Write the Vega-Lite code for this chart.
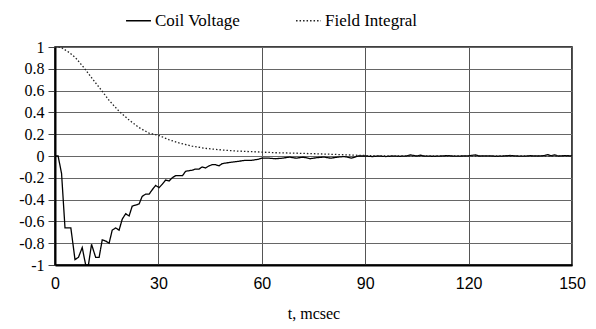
{
  "$schema": "https://vega.github.io/schema/vega-lite/v6.json",
  "width": 517,
  "height": 218,
  "autosize": {"type": "none"},
  "padding": {"left": 55, "top": 47, "right": 24, "bottom": 64},
  "background": "white",
  "config": {
    "view": {"stroke": "#000", "strokeWidth": 1.5},
    "font": "Liberation Serif"
  },
  "datasets": {
    "lines": [
      {"t": 0, "v": 0.0, "s": "Coil Voltage"},
      {"t": 0.9, "v": 0.0, "s": "Coil Voltage"},
      {"t": 1.9, "v": -0.16, "s": "Coil Voltage"},
      {"t": 2.9, "v": -0.66, "s": "Coil Voltage"},
      {"t": 4.6, "v": -0.66, "s": "Coil Voltage"},
      {"t": 5.8, "v": -0.95, "s": "Coil Voltage"},
      {"t": 6.8, "v": -0.93, "s": "Coil Voltage"},
      {"t": 7.9, "v": -0.84, "s": "Coil Voltage"},
      {"t": 8.9, "v": -1.0, "s": "Coil Voltage"},
      {"t": 9.7, "v": -1.0, "s": "Coil Voltage"},
      {"t": 10.6, "v": -0.81, "s": "Coil Voltage"},
      {"t": 11.8, "v": -0.93, "s": "Coil Voltage"},
      {"t": 12.8, "v": -0.93, "s": "Coil Voltage"},
      {"t": 13.7, "v": -0.77, "s": "Coil Voltage"},
      {"t": 14.7, "v": -0.78, "s": "Coil Voltage"},
      {"t": 15.7, "v": -0.8, "s": "Coil Voltage"},
      {"t": 16.6, "v": -0.68, "s": "Coil Voltage"},
      {"t": 17.6, "v": -0.66, "s": "Coil Voltage"},
      {"t": 18.6, "v": -0.68, "s": "Coil Voltage"},
      {"t": 19.5, "v": -0.58, "s": "Coil Voltage"},
      {"t": 20.5, "v": -0.53, "s": "Coil Voltage"},
      {"t": 21.5, "v": -0.55, "s": "Coil Voltage"},
      {"t": 22.4, "v": -0.46, "s": "Coil Voltage"},
      {"t": 23.4, "v": -0.45, "s": "Coil Voltage"},
      {"t": 24.4, "v": -0.44, "s": "Coil Voltage"},
      {"t": 25.3, "v": -0.37, "s": "Coil Voltage"},
      {"t": 26.3, "v": -0.35, "s": "Coil Voltage"},
      {"t": 27.3, "v": -0.35, "s": "Coil Voltage"},
      {"t": 28.2, "v": -0.31, "s": "Coil Voltage"},
      {"t": 29.2, "v": -0.27, "s": "Coil Voltage"},
      {"t": 30.2, "v": -0.29, "s": "Coil Voltage"},
      {"t": 31.1, "v": -0.26, "s": "Coil Voltage"},
      {"t": 32.1, "v": -0.22, "s": "Coil Voltage"},
      {"t": 33.1, "v": -0.23, "s": "Coil Voltage"},
      {"t": 34.0, "v": -0.2, "s": "Coil Voltage"},
      {"t": 35.0, "v": -0.18, "s": "Coil Voltage"},
      {"t": 37.0, "v": -0.18, "s": "Coil Voltage"},
      {"t": 37.9, "v": -0.14, "s": "Coil Voltage"},
      {"t": 39.8, "v": -0.13, "s": "Coil Voltage"},
      {"t": 40.8, "v": -0.12, "s": "Coil Voltage"},
      {"t": 41.8, "v": -0.12, "s": "Coil Voltage"},
      {"t": 42.7, "v": -0.1, "s": "Coil Voltage"},
      {"t": 43.7, "v": -0.11, "s": "Coil Voltage"},
      {"t": 44.7, "v": -0.09, "s": "Coil Voltage"},
      {"t": 45.6, "v": -0.08, "s": "Coil Voltage"},
      {"t": 46.6, "v": -0.08, "s": "Coil Voltage"},
      {"t": 47.6, "v": -0.09, "s": "Coil Voltage"},
      {"t": 48.5, "v": -0.07, "s": "Coil Voltage"},
      {"t": 50.5, "v": -0.06, "s": "Coil Voltage"},
      {"t": 53.0, "v": -0.05, "s": "Coil Voltage"},
      {"t": 55, "v": -0.04, "s": "Coil Voltage"},
      {"t": 57, "v": -0.04, "s": "Coil Voltage"},
      {"t": 59, "v": -0.03, "s": "Coil Voltage"},
      {"t": 60, "v": -0.02, "s": "Coil Voltage"},
      {"t": 62, "v": -0.02, "s": "Coil Voltage"},
      {"t": 64, "v": -0.025, "s": "Coil Voltage"},
      {"t": 66, "v": -0.02, "s": "Coil Voltage"},
      {"t": 68, "v": -0.01, "s": "Coil Voltage"},
      {"t": 70, "v": -0.02, "s": "Coil Voltage"},
      {"t": 72, "v": -0.01, "s": "Coil Voltage"},
      {"t": 74, "v": -0.025, "s": "Coil Voltage"},
      {"t": 76, "v": -0.015, "s": "Coil Voltage"},
      {"t": 78, "v": -0.01, "s": "Coil Voltage"},
      {"t": 80, "v": -0.02, "s": "Coil Voltage"},
      {"t": 82, "v": -0.01, "s": "Coil Voltage"},
      {"t": 84, "v": -0.005, "s": "Coil Voltage"},
      {"t": 86, "v": -0.02, "s": "Coil Voltage"},
      {"t": 87, "v": -0.01, "s": "Coil Voltage"},
      {"t": 88, "v": 0.0, "s": "Coil Voltage"},
      {"t": 90, "v": 0.0, "s": "Coil Voltage"},
      {"t": 92, "v": -0.005, "s": "Coil Voltage"},
      {"t": 94, "v": 0.0, "s": "Coil Voltage"},
      {"t": 96, "v": -0.005, "s": "Coil Voltage"},
      {"t": 98, "v": 0.0, "s": "Coil Voltage"},
      {"t": 100, "v": -0.003, "s": "Coil Voltage"},
      {"t": 102, "v": 0.0, "s": "Coil Voltage"},
      {"t": 103, "v": 0.01, "s": "Coil Voltage"},
      {"t": 104, "v": 0.005, "s": "Coil Voltage"},
      {"t": 105, "v": 0.0, "s": "Coil Voltage"},
      {"t": 106, "v": 0.008, "s": "Coil Voltage"},
      {"t": 107, "v": 0.0, "s": "Coil Voltage"},
      {"t": 110, "v": -0.003, "s": "Coil Voltage"},
      {"t": 112, "v": 0.0, "s": "Coil Voltage"},
      {"t": 114, "v": 0.004, "s": "Coil Voltage"},
      {"t": 116, "v": -0.002, "s": "Coil Voltage"},
      {"t": 118, "v": 0.0, "s": "Coil Voltage"},
      {"t": 120, "v": 0.002, "s": "Coil Voltage"},
      {"t": 122, "v": 0.01, "s": "Coil Voltage"},
      {"t": 123, "v": 0.0, "s": "Coil Voltage"},
      {"t": 126, "v": 0.002, "s": "Coil Voltage"},
      {"t": 128, "v": -0.003, "s": "Coil Voltage"},
      {"t": 130, "v": 0.0, "s": "Coil Voltage"},
      {"t": 132, "v": 0.005, "s": "Coil Voltage"},
      {"t": 134, "v": 0.0, "s": "Coil Voltage"},
      {"t": 136, "v": -0.002, "s": "Coil Voltage"},
      {"t": 138, "v": 0.003, "s": "Coil Voltage"},
      {"t": 140, "v": 0.0, "s": "Coil Voltage"},
      {"t": 142, "v": 0.004, "s": "Coil Voltage"},
      {"t": 143, "v": 0.012, "s": "Coil Voltage"},
      {"t": 144, "v": 0.002, "s": "Coil Voltage"},
      {"t": 145, "v": 0.01, "s": "Coil Voltage"},
      {"t": 146, "v": 0.0, "s": "Coil Voltage"},
      {"t": 148, "v": 0.004, "s": "Coil Voltage"},
      {"t": 150, "v": 0.0, "s": "Coil Voltage"},
      {"t": 0, "v": 1.0, "s": "Field Integral"},
      {"t": 1.6, "v": 1.0, "s": "Field Integral"},
      {"t": 4.1, "v": 0.95, "s": "Field Integral"},
      {"t": 6.0, "v": 0.9, "s": "Field Integral"},
      {"t": 8.4, "v": 0.81, "s": "Field Integral"},
      {"t": 10.8, "v": 0.71, "s": "Field Integral"},
      {"t": 13.3, "v": 0.61, "s": "Field Integral"},
      {"t": 15.7, "v": 0.51, "s": "Field Integral"},
      {"t": 18.6, "v": 0.41, "s": "Field Integral"},
      {"t": 21.5, "v": 0.33, "s": "Field Integral"},
      {"t": 24.4, "v": 0.26, "s": "Field Integral"},
      {"t": 27.3, "v": 0.21, "s": "Field Integral"},
      {"t": 30.0, "v": 0.19, "s": "Field Integral"},
      {"t": 33.0, "v": 0.15, "s": "Field Integral"},
      {"t": 36.0, "v": 0.12, "s": "Field Integral"},
      {"t": 39.8, "v": 0.09, "s": "Field Integral"},
      {"t": 43.7, "v": 0.07, "s": "Field Integral"},
      {"t": 48.5, "v": 0.055, "s": "Field Integral"},
      {"t": 53.0, "v": 0.045, "s": "Field Integral"},
      {"t": 57.0, "v": 0.04, "s": "Field Integral"},
      {"t": 64.0, "v": 0.03, "s": "Field Integral"},
      {"t": 71.0, "v": 0.025, "s": "Field Integral"},
      {"t": 81.0, "v": 0.015, "s": "Field Integral"},
      {"t": 89.0, "v": 0.005, "s": "Field Integral"},
      {"t": 95.0, "v": 0.0, "s": "Field Integral"},
      {"t": 150.0, "v": 0.0, "s": "Field Integral"}
    ]
  },
  "data": {"name": "lines"},
  "mark": {"type": "line", "clip": true, "strokeWidth": 1.3},
  "encoding": {
    "x": {
      "field": "t",
      "type": "quantitative",
      "scale": {"domain": [0, 150], "nice": false, "zero": false},
      "axis": {
        "values": [0, 30, 60, 90, 120, 150],
        "title": "t, mcsec",
        "titleFont": "Liberation Serif",
        "titleFontSize": 16,
        "titleFontWeight": "normal",
        "titleColor": "#000",
        "titlePadding": 14,
        "labelFont": "Liberation Sans",
        "labelFontSize": 16,
        "labelColor": "#000",
        "labelPadding": 10,
        "labelFlush": false,
        "ticks": false,
        "domainColor": "#000",
        "domainWidth": 2,
        "gridColor": "#555",
        "gridOpacity": 1,
        "gridWidth": 1
      }
    },
    "y": {
      "field": "v",
      "type": "quantitative",
      "scale": {"domain": [-1, 1], "nice": false},
      "axis": {
        "values": [-1, -0.8, -0.6, -0.4, -0.2, 0, 0.2, 0.4, 0.6, 0.8, 1],
        "labelExpr": "'' + datum.value",
        "title": null,
        "labelFont": "Liberation Serif",
        "labelFontSize": 16,
        "labelColor": "#000",
        "labelPadding": 4,
        "tickSize": 7,
        "tickColor": "#444",
        "tickWidth": 1,
        "domainColor": "#000",
        "domainWidth": 2,
        "gridColor": "#666",
        "gridOpacity": 1,
        "gridWidth": 1
      }
    },
    "color": {
      "field": "s",
      "type": "nominal",
      "scale": {"domain": ["Coil Voltage", "Field Integral"], "range": ["#000", "#222"]},
      "legend": {
        "title": null,
        "orient": "none",
        "legendX": 70,
        "legendY": -40,
        "direction": "horizontal",
        "symbolType": "stroke",
        "symbolSize": 620,
        "symbolStrokeWidth": 1.3,
        "labelFont": "Liberation Serif",
        "labelFontSize": 17,
        "labelColor": "#000",
        "labelOffset": 3,
        "columnPadding": 52
      }
    },
    "strokeDash": {
      "field": "s",
      "type": "nominal",
      "scale": {"domain": ["Coil Voltage", "Field Integral"], "range": [[1, 0], [1.5, 2]]},
      "legend": {
        "title": null,
        "orient": "none",
        "legendX": 70,
        "legendY": -40,
        "direction": "horizontal",
        "symbolType": "stroke",
        "symbolSize": 620,
        "symbolStrokeWidth": 1.3,
        "labelFont": "Liberation Serif",
        "labelFontSize": 17,
        "labelColor": "#000",
        "labelOffset": 3,
        "columnPadding": 52
      }
    }
  }
}
